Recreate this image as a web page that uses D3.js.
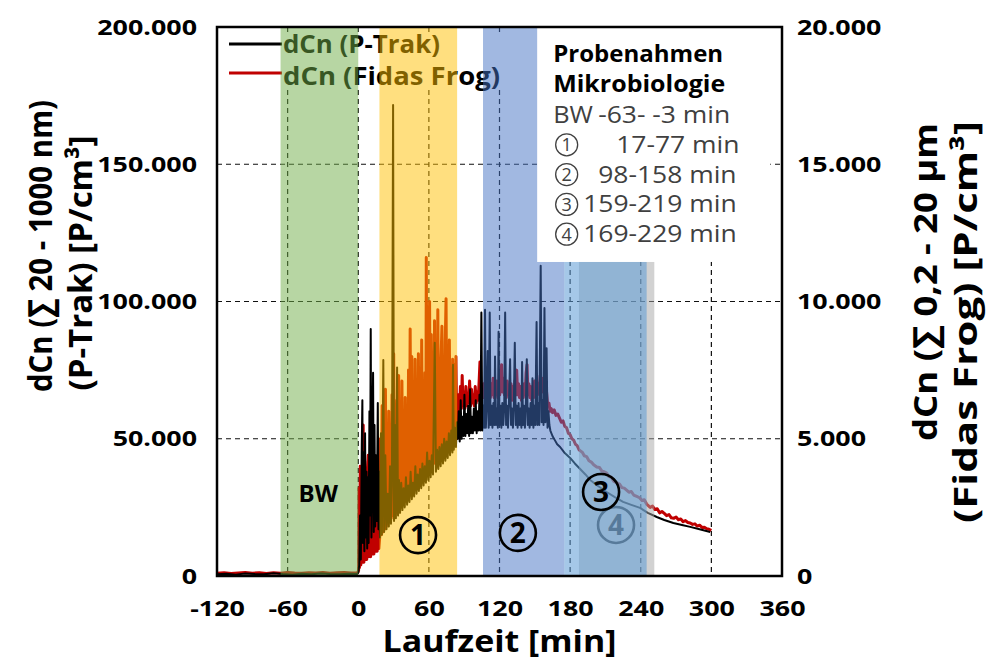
<!DOCTYPE html>
<html>
<head>
<meta charset="utf-8">
<script src="https://cdn.jsdelivr.net/npm/d3@7"></script>
<style>
  body { margin: 0; background: #fff; }
  svg text { font-family: "Open Sans", "Noto Sans", sans-serif; }
</style>
</head>
<body>
<div id="chart"></div>
<script>
// values in 1000 P/cm³, time in minutes
const xTicks = [-120, -60, 0, 60, 120, 180, 240, 300, 360];
const leftTicks = [0, 50, 100, 150, 200];
const rightTicks = [0, 5, 10, 15, 20];

// P-Trak, left axis
const pTrakData = [
  [-120,0.6],[-112,0.8],[-104,0.5],[-96,0.9],[-88,0.7],[-80,0.6],[-72,1.0],[-64,0.7],[-56,0.5],[-48,0.8],
  [-40,0.6],[-32,0.9],[-24,0.7],[-16,0.6],[-8,0.8],[-1,0.7],
  [0,1.2],[0.8,4],[1.5,22],[2.2,6],[3,48],[3.5,64],[4,12],[4.6,45],[5.2,9],[5.8,52],[6.4,14],[7,38],
  [7.6,10],[8.2,36],[8.8,12],[9.5,60],[10,22],[10.6,90],[11.2,14],[11.8,40],[12.6,74],[13.2,16],[13.8,55],
  [14.4,18],[15,44],[15.8,20],[16.6,63],[17.2,17],[17.8,38],
  [18.5,14],[19.3,52],[20.1,15],[21.3,78.7],[22,16],[23,44],[24,17],[25,30],[26,18],[27,40],[27.8,19],
  [28.6,33],[29.6,171.6],[30.4,20],[31.2,55],[32,21],[33,76],[33.8,22],[34.6,35],[35.5,23],[36.5,34],
  [37.5,24],[38.5,32],[39.5,25],[40.5,36],[41.5,26],[42.5,33],[43.5,27],[44.5,38],[45.5,28],[46.5,34],
  [47.5,29],[48.5,40],[49.5,30],[50.5,37],[51.5,31],[52.5,39],[53.5,32],[54.5,41],[55.5,33],[56.5,40],
  [57.5,34],[58.5,45],[59.5,35],[60.5,42],[61.5,36],[62.5,44],[63.5,37],[65,85],[66,38],[67,46],[68,39],
  [69,47],[70,40],[71,48],[72,41],[73,50],[74,42],[75,49],[76,43],[77,52],[78,44],[79,53],[80,45],
  [80.5,77],[81.2,46],[82,54],[83,47],[83.8,56],
  [84.6,50],[85.4,60],[86.2,49],[87,64],[87.8,50],[88.6,58],[89.4,51],[90.2,66],[91,51],[91.8,59],
  [92.6,52],[93.4,62],[94.2,51],[95,68],[95.8,52],[96.6,58],[97.4,52],[98.2,61],[99,53],[99.8,64],
  [100.6,52],[101.4,60],[102.2,53],[103,66],[103.8,53],[104.6,96],[105.4,53],
  [106.2,62],[107,54],[107.7,97],[108.4,54],[109.2,63],[110,82],[110.8,54],[111.7,96],[112.4,55],
  [113.2,62],[114,54],[114.8,63],[115.6,55],[116.2,80],[117,55],[117.8,61],[118.6,54],[119.2,89],
  [120,55],[120.8,62],[121.6,54],[122.4,63],[123.2,55],[124,61],[124.8,96],[125.6,55],[126.4,62],
  [127.2,54],[128,63],[129,79],[129.8,55],[130.6,61],[131.4,54],[132.2,63],[133,85],[133.8,55],
  [134.6,62],[135.4,54],[136.2,63],[137,55],[137.8,61],[138.6,54],[139.2,78],[140,55],[140.8,62],
  [141.6,54],[142.4,63],[143.2,79],[144,55],[144.8,61],[145.6,54],[146.4,63],[147.2,55],[148,72],
  [148.8,54],[149.6,62],[150.4,55],[151.5,92.5],[152.2,55],[153,63],[153.8,55],[155,113],[155.8,56],
  [156.6,64],[157.4,55],[158.2,97.6],[159,56],[160,83],[160.8,54],[161.6,60],[162.4,55],[163.2,53],
  [165,51],[167,49.5],[169,48],[171.5,47],[175,45],[180,43],[184,41],[188.5,39],[193,37],[197,35],
  [204,32.7],[211,30.6],[218,28.7],[225,27],[232,25.9],[239.4,24.8],[246,23],[253.6,21.5],[260,20.4],
  [267.7,19.3],[275,18.6],[282,17.9],[290,17],[299,16]
];

// Fidas Frog, right axis
const fidasData = [
  [-120,0.1],[-114,0.12],[-108,0.09],[-102,0.11],[-96,0.13],[-90,0.1],[-84,0.12],[-78,0.09],[-72,0.12],
  [-66,0.1],[-60,0.13],[-54,0.11],[-48,0.1],[-42,0.12],[-36,0.11],[-30,0.13],[-24,0.1],[-18,0.12],
  [-12,0.13],[-6,0.11],[-0.5,0.12],
  [0.3,0.2],[0.6,3.2],[1,0.3],[1.7,4.0],[2.2,0.4],[2.8,3.6],[3.3,0.5],[4.2,5.5],[4.8,0.5],[5.4,4.2],
  [6,0.6],[6.6,3.0],[7.2,0.6],[7.8,3.8],[8.5,4.4],[9.1,0.7],[9.8,2.6],[10.5,0.7],[11.2,3.3],[11.9,0.8],
  [12.6,2.4],[13.3,0.8],[14,3.5],[14.7,0.9],[15.4,2.8],[16.1,0.9],[16.8,3.9],[17.5,1.0],
  [18.2,1.4],[18.9,5.0],[19.6,1.5],[20.3,6.2],[21,1.6],[21.7,5.2],[22.4,1.7],[23.1,6.8],[23.8,1.8],
  [24.5,5.4],[25.2,1.9],[25.9,6.0],[26.6,2.0],[27.3,5.5],[28,2.1],[28.7,6.6],[29.4,2.2],[30.1,8.1],
  [30.8,2.3],[31.5,5.7],[32.2,2.3],[32.9,6.4],[33.6,2.4],[34.3,7.3],[35,2.5],[35.7,5.8],[36.4,2.5],
  [37.1,7.1],[37.8,2.6],[38.5,6.0],[39.2,2.7],[39.9,6.5],[40.6,2.8],[41.3,6.1],[42,2.9],[42.7,7.5],
  [43.4,3.0],[44.1,9.0],[44.8,3.0],[45.5,8.0],[46.2,3.1],[46.9,6.4],[47.6,3.2],[48.3,7.9],[49,3.3],
  [49.7,6.5],[50.4,3.4],[51.1,8.1],[51.8,3.4],[52.5,6.6],[53.2,3.5],[53.9,8.6],[54.6,3.6],[55.3,6.8],
  [56,3.7],[56.7,7.4],[57.4,3.8],[57.8,11.6],[58.5,3.8],[59.2,9.8],[59.9,3.9],[60.6,10.0],[61.3,4.0],
  [62,8.8],[62.7,4.1],[63.4,6.9],[64.1,4.1],[64.8,9.3],[65.5,4.2],[66.2,7.1],[66.9,4.3],[67.6,9.7],
  [68.3,4.3],[69,7.2],[69.7,4.4],[70.4,8.0],[71.1,9.1],[71.8,4.5],[72.5,7.3],[73.2,4.5],[73.9,8.5],
  [74.6,10.1],[75.3,4.6],[76,7.2],[76.7,4.7],[77.4,8.6],[78.1,4.7],[78.8,7.0],[79.5,4.8],[80.2,7.9],
  [80.9,4.8],[81.6,7.7],[82.3,4.9],[83,8.0],[83.7,5.0],
  [84.4,5.6],[85.2,6.6],[86,5.9],[86.8,6.9],[87.6,6.1],[88.3,7.3],[89,6.2],[89.8,6.7],[90.6,6.1],
  [91.4,6.9],[92.2,6.2],[93,6.6],[93.8,6.3],[94.6,7.1],[95.4,6.2],[96.2,6.8],[97,6.3],[97.8,6.6],
  [98.6,6.2],[99.4,6.9],[100.2,6.3],[101,6.7],[101.8,6.4],[102.6,7.0],[103.4,7.8],[104.2,6.4],[105,6.9],
  [105.8,6.5],
  [106.6,7.0],[107.4,6.5],[108.2,7.2],[109,6.6],[109.8,7.6],[110.6,6.6],[111.4,7.1],[112.2,6.5],
  [113,7.0],[113.8,6.6],[114.6,7.2],[115.4,6.5],[116.2,6.9],[117,6.6],[117.8,7.1],[118.6,6.5],[119.4,7.0],
  [120.2,6.6],[121,7.3],[121.8,7.7],[122.6,6.7],[123.4,7.2],[124.2,6.6],[125,7.0],[125.8,6.5],[126.6,7.1],
  [127.4,6.6],[128.2,6.9],[129,6.5],[129.8,7.0],[130.6,6.4],[131.4,6.9],[132.2,6.5],[133,7.1],[133.8,6.6],
  [134.6,7.5],[135.4,6.6],[136.2,7.0],[137,6.5],[137.8,6.9],[138.6,6.4],[139.4,6.8],[140.2,6.5],[141,7.0],
  [141.8,6.6],[142.6,7.4],[143.4,7.7],[144.2,6.6],[145,7.0],[145.8,6.5],[146.6,6.9],[147.4,6.4],[148.2,6.8],
  [149,6.5],[149.8,7.1],[150.6,6.6],[151.4,7.2],[152.2,6.6],[153,7.0],[153.8,6.7],[154.6,7.3],[155.4,6.8],
  [156.2,7.2],[157,6.7],[157.8,7.1],[158.6,6.8],[159.4,7.0],[160.2,6.6],[161,6.2],[162,6.3],[163,6.0],
  [164,6.1],
  [165,5.95],[166.5,6.05],[168,5.85],[169.5,5.9],[171,5.75],[172.5,5.6],[174,5.65],[175.5,5.45],[177,5.4],
  [178.5,5.2],[180,5.15],[181.5,5.0],[183,4.95],[184.5,4.8],[186,4.75],[187.5,4.6],[189,4.55],[190.5,4.5],
  [192,4.38],[194,4.35],[196,4.2],[198,4.15],[200,4.05],[202.6,3.97],[205,3.95],[207,3.82],[209,3.8],
  [211,3.75],[213,3.62],[215,3.6],[217,3.45],[219.6,3.4],[222,3.35],[224,3.22],[226,3.2],[228,3.13],
  [230,3.05],[232,3.08],[234,2.95],[236.6,2.9],[239,2.85],[241,2.75],[243,2.78],[245,2.62],[248,2.5],
  [250,2.55],[252,2.42],[254,2.45],[256,2.3],[258,2.35],[260,2.28],[262,2.2],[264,2.24],[266,2.12],
  [268,2.1],[270,2.15],[272,2.05],[274,2.08],[276,1.98],[278,2.02],[280,1.95],[282,1.93],[284,1.88],
  [286,1.9],[288,1.82],[290,1.85],[292,1.77],[294,1.78],[296,1.72],[298,1.7],[300,1.66]
];

// sampling windows as drawn (minutes)
const bands = [
  {id: "b4", from: 187.5, to: 251.5},
  {id: "b3", from: 175, to: 245},
  {id: "bw", from: -66, to: 0},
  {id: "b1", from: 18, to: 84},
  {id: "b2", from: 106, to: 175}
];
const bandStyle = {
  bw: {fill: "#70ad47", opacity: 0.5},
  b1: {fill: "#ffc000", opacity: 0.5},
  b2: {fill: "#4472c4", opacity: 0.5},
  b3: {fill: "#5b9bd5", opacity: 0.55},
  b4: {fill: "#a5a5a5", opacity: 0.5}
};

const boxTitle = ["Probenahmen", "Mikrobiologie"];
const boxRows = [["BW", "-63- -3 min"], ["1", "17-77 min"], ["2", "98-158 min"], ["3", "159-219 min"], ["4", "169-229 min"]];

const W = 990, H = 662;
const margins = {left: 217, top: 27, right: 208, bottom: 86};
const dims = {width: W - margins.left - margins.right, height: H - margins.top - margins.bottom};

const fmt = d3.formatLocale({decimal: ",", thousands: ".", grouping: [3], currency: ["", ""]}).format(",");
const tickText = d => fmt(d * 1000);

function stretch(sel, sx) {
  sel.each(function() {
    const w = this.getComputedTextLength();
    d3.select(this).attr("textLength", w * sx).attr("lengthAdjust", "spacingAndGlyphs");
  });
}

// circled number: outline circle with the digit in it
function circled(parent, cx, cy, digit, r, col, fs, weight, sw) {
  const c = parent.append("g").attr("transform", `translate(${cx},${cy})`);
  c.append("circle").attr("r", r).attr("fill", "none").attr("stroke", col).attr("stroke-width", sw);
  c.append("text").attr("y", fs * 0.36).attr("text-anchor", "middle").text(digit)
    .attr("font-size", fs).attr("font-weight", weight).attr("fill", col);
  return c;
}

const svg = d3.select("#chart").append("svg")
  .attr("width", W).attr("height", H);
svg.append("rect").attr("width", W).attr("height", H).attr("fill", "#fff");

const g = svg.append("g").attr("transform", `translate(${margins.left},${margins.top})`);

const x = d3.scaleLinear().domain([-120, 360]).range([0, dims.width]);
const yL = d3.scaleLinear().domain([0, 200]).range([dims.height, 0]);
const yR = d3.scaleLinear().domain([0, 20]).range([dims.height, 0]);

// grid
g.append("g").selectAll("line").data(xTicks.slice(1, -1)).join("line")
  .attr("x1", d => x(d)).attr("x2", d => x(d)).attr("y1", 0).attr("y2", dims.height)
  .attr("stroke", "#111").attr("stroke-width", 1.2).attr("stroke-dasharray", "5,4");
g.append("g").selectAll("line").data(leftTicks.slice(1, -1)).join("line")
  .attr("x1", 0).attr("x2", dims.width).attr("y1", d => yL(d)).attr("y2", d => yL(d))
  .attr("stroke", "#111").attr("stroke-width", 1.2).attr("stroke-dasharray", "5,4");

// legend (sits under the bands)
const leg = g.append("g");
leg.append("rect").attr("x", 3).attr("y", 9).attr("width", 290).attr("height", 53).attr("fill", "#fff");
[["dCn (P-Trak)", "#000", 17, 26, 157], ["dCn (Fidas Frog)", "#c00000", 46, 58, 217]].forEach(([label, col, ly, ty, tl]) => {
  leg.append("line").attr("x1", 12).attr("x2", 65).attr("y1", ly).attr("y2", ly)
    .attr("stroke", col).attr("stroke-width", 3);
  leg.append("text").attr("x", 66).attr("y", ty).text(label)
    .attr("font-size", 25).attr("font-weight", 700).attr("fill", "#000")
    .attr("textLength", tl).attr("lengthAdjust", "spacingAndGlyphs");
});

// series
g.append("path").datum(fidasData)
  .attr("d", d3.line().x(d => x(d[0])).y(d => yR(d[1])))
  .attr("fill", "none").attr("stroke", "#c00000").attr("stroke-width", 3).attr("stroke-linejoin", "round");
g.append("path").datum(pTrakData)
  .attr("d", d3.line().x(d => x(d[0])).y(d => yL(d[1])))
  .attr("fill", "none").attr("stroke", "#000").attr("stroke-width", 2).attr("stroke-linejoin", "round");

// label 4 lies beneath the bands
circled(g, x(219), yL(18.6), "4", 18, "#000", 28, 700, 2.6);

// bands
g.append("g").selectAll("rect").data(bands).join("rect")
  .attr("x", d => x(d.from)).attr("width", d => x(d.to) - x(d.from))
  .attr("y", 0).attr("height", dims.height)
  .attr("fill", d => bandStyle[d.id].fill).attr("fill-opacity", d => bandStyle[d.id].opacity);

// sample box
const bx = x(152), by = yL(114.4);
g.append("rect").attr("x", bx).attr("y", 0).attr("width", x(350) - bx).attr("height", by).attr("fill", "#fff");
const box = g.append("g").attr("transform", `translate(${bx + 16},0)`);
boxTitle.forEach((t, i) => {
  box.append("text").attr("x", 0).attr("y", 35 + i * 30).text(t)
    .attr("font-size", 23).attr("font-weight", 700).attr("fill", "#000")
    .attr("textLength", i === 0 ? 170 : 172).attr("lengthAdjust", "spacingAndGlyphs");
});
const rowX = [45, 63, 45, 30, 30];
boxRows.forEach((r, i) => {
  const yy = 96 + i * 29.8;
  if (i === 0) {
    const b = box.append("text").attr("x", 0).attr("y", yy).text(r[0])
      .attr("font-size", 23).attr("fill", "#404040");
    stretch(b, 1.1);
  } else {
    circled(box, 13.5, yy - 8, r[0], 11, "#404040", 18, 400, 1.3);
  }
  const t = box.append("text").attr("x", rowX[i]).attr("y", yy).text(r[1])
    .attr("font-size", 23).attr("fill", "#404040");
  stretch(t, 1.15);
});

// plot annotations
[["1", 50.8, 14.9], ["2", 135.6, 15.7], ["3", 206.3, 30.6]].forEach(([t, mx, v]) => {
  circled(g, x(mx), yL(v), t, 18, "#000", 28, 700, 2.6);
});
g.append("text").attr("x", x(-34)).attr("y", yL(30.6)).text("BW")
  .attr("text-anchor", "middle").attr("dominant-baseline", "central")
  .attr("font-size", 24).attr("font-weight", 700).attr("fill", "#000");

// frame
g.append("rect").attr("width", dims.width).attr("height", dims.height)
  .attr("fill", "none").attr("stroke", "#000").attr("stroke-width", 2.5);

// axes
const axL = g.append("g").call(d3.axisLeft(yL).tickValues(leftTicks).tickSize(0).tickPadding(20).tickFormat(tickText));
const axR = g.append("g").attr("transform", `translate(${dims.width},0)`)
  .call(d3.axisRight(yR).tickValues(rightTicks).tickSize(0).tickPadding(15).tickFormat(tickText));
const axB = g.append("g").attr("transform", `translate(0,${dims.height})`)
  .call(d3.axisBottom(x).tickValues(xTicks).tickSize(0).tickPadding(24).tickFormat(d => String(d)));
[axL, axR, axB].forEach(a => {
  a.select(".domain").remove();
  a.selectAll("text").attr("font-size", 22).attr("font-weight", 700).attr("fill", "#000")
    .attr("font-family", '"Open Sans", sans-serif');
  stretch(a.selectAll("text"), 1.22);
});

// titles
svg.append("text").attr("x", margins.left + dims.width / 2).attr("y", 652).text("Laufzeit [min]")
  .attr("text-anchor", "middle").attr("font-size", 31).attr("font-weight", 700)
  .attr("textLength", 234).attr("lengthAdjust", "spacingAndGlyphs");

const titles = [
  {t: "dCn (∑ 20 - 1000 nm)", x: 52, y: 246, len: 292},
  {t: "(P-Trak)  [P/cm³]", x: 92, y: 263, len: 255},
  {t: "dCn (∑ 0,2 - 20 µm", x: 937, y: 282, len: 318},
  {t: "(Fidas Frog) [P/cm³]", x: 977, y: 322, len: 402}
];
titles.forEach(d => {
  svg.append("text").attr("transform", `translate(${d.x},${d.y}) rotate(-90)`).text(d.t)
    .attr("text-anchor", "middle").attr("font-size", 33).attr("font-weight", 700).attr("fill", "#000")
    .attr("textLength", d.len).attr("lengthAdjust", "spacingAndGlyphs");
});
</script>
</body>
</html>
